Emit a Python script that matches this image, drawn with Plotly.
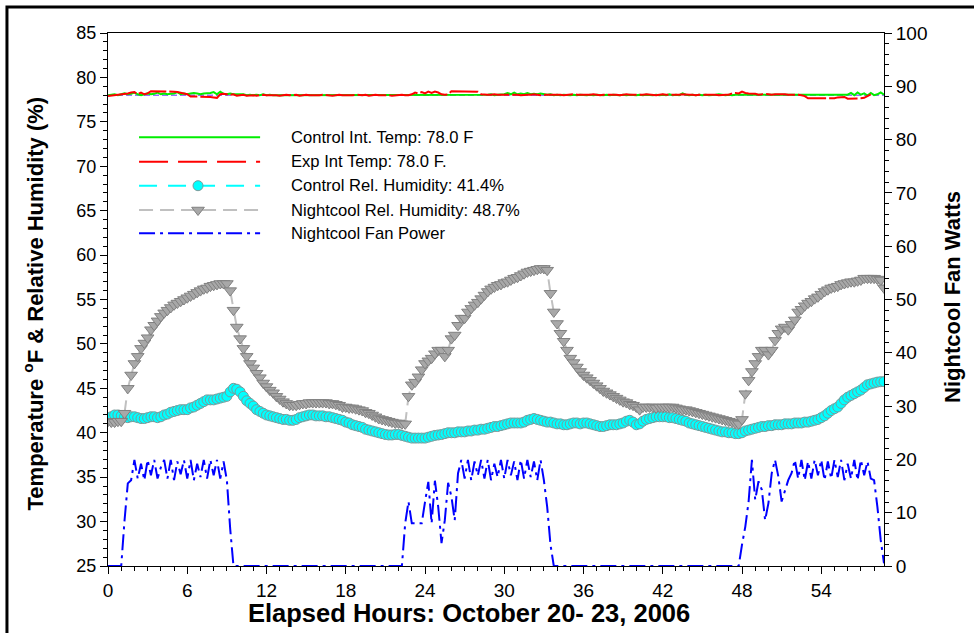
import plotly.graph_objects as go

# Elapsed time base, 15-minute logging interval (hours)
hours = [i * 0.25 for i in range(236)]

# Control house interior temperature (F)
control_temp = [
    78.0, 78.05, 78.1, 78.0,   78.1, 78.2, 78.1, 78.15,   78.3, 78.1, 78.0, 78.1,
    78.2, 78.1, 78.15, 78.3,   78.1, 78.2, 78.1, 78.15,   78.2, 78.35, 78.1, 78.2,
    78.1, 78.2, 78.25, 78.2,   78.1, 78.2, 78.2, 78.25,   78.35, 78.1, 78.4, 78.15,
    78.1, 78.2, 78.1, 78.1,    78.05, 78.1, 78.0, 78.05,  78.0, 78.05, 78.0, 78.1,
    78.0, 78.05, 78.0, 78.0,   78.05, 78.0, 78.0, 78.05,  78.0, 78.0, 78.05, 78.0,
    78.0, 78.05, 78.0, 78.0,   78.05, 78.0, 78.0, 78.05,  78.0, 78.05, 78.0, 78.0,
    78.0, 78.05, 78.0, 78.05,  78.0, 78.0, 78.05, 78.0,   78.05, 78.0, 78.0, 78.05,
    78.0, 78.05, 78.0, 78.0,   78.05, 78.0, 78.05, 78.0,  78.0, 78.05, 78.0, 78.05,
    78.0, 78.0, 78.05, 78.0,   78.05, 78.0, 78.0, 78.05,  78.0, 78.05, 78.0, 78.0,
    78.05, 78.0, 78.05, 78.0,  78.0, 78.05, 78.0, 78.05,  78.1, 78.0, 78.05, 78.1,
    78.1, 78.25, 78.1, 78.3,   78.1, 78.2, 78.1, 78.25,   78.1, 78.15, 78.1, 78.2,
    78.1, 78.05, 78.1, 78.0,   78.05, 78.0, 78.05, 78.0,  78.0, 78.05, 78.0, 78.05,
    78.0, 78.0, 78.05, 78.0,   78.05, 78.0, 78.0, 78.05,  78.0, 78.05, 78.0, 78.0,
    78.05, 78.0, 78.05, 78.0,  78.0, 78.05, 78.0, 78.05,  78.0, 78.0, 78.05, 78.0,
    78.05, 78.0, 78.1, 78.0,   78.05, 78.0, 78.2, 78.05,  78.0, 78.05, 78.0, 78.05,
    78.0, 78.05, 78.0, 78.0,   78.05, 78.1, 78.05, 78.0,  78.05, 78.0, 78.05, 78.05,
    78.0, 78.05, 78.0, 78.05,  78.0, 78.05, 78.0, 78.0,   78.05, 78.0, 78.05, 78.0,
    78.05, 78.0, 78.0, 78.05,  78.05, 78.0, 78.05, 78.0,  78.0, 78.05, 78.0, 78.05,
    78.0, 78.05, 78.0, 78.05,  78.0, 78.0, 78.05, 78.0,   78.05, 78.25, 78.0, 78.3,
    78.05, 78.2, 77.95, 78.25, 78.0, 78.1, 78.3, 78.05,   78.0, 78.25, 78.0, 78.3,
    78.1, 78.0, 78.2, 78.35,   78.0, 78.1, 78.3, 77.95,   78.1, 78.25, 78.0, 78.3,
]

# Experimental (Nightcool) house interior temperature (F)
exp_temp = [
    77.9, 77.95, 78.0, 78.05,  78.1, 78.1, 78.2, 78.3,    78.35, 78.1, 78.3, 78.1,
    78.2, 78.45, 78.45, 78.45, 78.45, 78.45, 78.45, 78.45, 78.4, 78.35, 78.3, 78.2,
    78.1, 77.85, 77.85, 77.85, 77.85, 77.85, 77.8, 77.8,  77.75, 77.7, 78.1, 78.15,
    78.1, 78.05, 78.1, 77.95,  78.0, 78.05, 77.95, 78.0,  78.0, 77.95, 78.0, 78.05,
    78.0, 78.0, 78.05, 78.0,   77.95, 78.0, 78.05, 78.0,  78.0, 78.05, 77.95, 78.0,
    78.05, 78.0, 78.0, 77.95,  78.0, 78.05, 78.0, 78.0,   77.95, 78.0, 78.05, 78.0,
    78.0, 77.95, 78.0, 78.05,  78.0, 78.0, 78.05, 77.95,  78.0, 78.05, 78.0, 78.0,
    78.05, 78.0, 77.95, 78.0,  78.0, 78.05, 78.0, 78.0,   78.1, 78.3, 78.2, 78.35,
    78.2, 78.4, 78.25, 78.4,   78.3, 78.1, 78.05, 78.1,   78.45, 78.45, 78.45, 78.45,
    78.45, 78.45, 78.45, 78.4, 78.4, 78.1, 78.05, 78.05,  78.05, 78.1, 78.05, 78.05,
    78.05, 78.05, 78.1, 78.05, 78.05, 78.0, 78.05, 78.05, 78.05, 78.1, 78.05, 78.0,
    78.05, 78.05, 78.05, 78.1, 78.05, 78.05, 78.0, 78.05, 78.05, 78.1, 78.05, 78.05,
    78.0, 78.05, 78.05, 78.1,  78.05, 78.0, 78.05, 78.05, 78.1, 78.05, 78.05, 78.0,
    78.05, 78.1, 78.05, 78.05, 78.05, 78.0, 78.05, 78.1,  78.05, 78.05, 78.0, 78.05,
    78.1, 78.05, 78.05, 78.05, 78.0, 78.05, 78.1, 78.05,  78.05, 78.05, 78.0, 78.05,
    78.05, 78.1, 78.05, 78.05, 78.05, 78.0, 78.05, 78.05, 78.05, 78.2, 78.25, 78.2,
    78.4, 78.25, 78.2, 78.2,   78.15, 78.05, 78.1, 78.15, 78.1, 78.05, 78.1, 78.1,
    78.15, 78.1, 78.05, 78.05, 78.1, 78.05, 78.0, 77.9,   77.65, 77.65, 77.65, 77.65,
    77.65, 77.6, 77.6, 77.65,  77.65, 77.75, 77.8, 77.8,  77.6, 77.6, 77.6, 77.6,
    77.65, 77.7, 77.9, 78.1,
]

# Thermostat setpoint (F)
setpoint = [78.0] * 236

# Control house relative humidity (%)
control_rh = [
    41.6, 41.8, 42.0, 42.0,  41.9, 41.8, 41.7, 41.8,  41.8, 41.7, 41.6, 41.6,
    41.7, 41.8, 41.8, 41.7,  41.8, 42.0, 42.1, 42.3,  42.4, 42.5, 42.6, 42.6,
    42.6, 42.8, 42.9, 43.1,  43.3, 43.5, 43.7, 43.7,  43.7, 43.8, 43.9, 44.0,
    44.1, 44.6, 45.0, 44.9,  44.6, 44.1, 43.6, 43.3,  43.0, 42.6, 42.4, 42.2,
    42.0, 41.9, 41.8, 41.7,  41.6, 41.5, 41.5, 41.4,  41.4, 41.5, 41.7, 41.8,
    41.9, 42.0, 42.0, 41.9,  41.9, 41.9, 41.8, 41.8,  41.7, 41.6, 41.5, 41.4,
    41.2, 41.1, 40.9, 40.8,  40.7, 40.6, 40.4, 40.3,  40.2, 40.1, 40.0, 39.9,
    39.8, 39.75, 39.75, 39.8, 39.8, 39.7, 39.6, 39.5, 39.4, 39.4, 39.4, 39.4,
    39.4, 39.5, 39.6, 39.7,  39.75, 39.8, 39.9, 40.0, 40.0, 40.0, 40.1, 40.1,
    40.1, 40.2, 40.2, 40.3,  40.3, 40.4, 40.4, 40.5,  40.6, 40.7, 40.7, 40.8,
    40.9, 41.0, 41.1, 41.1,  41.1, 41.1, 41.2, 41.4,  41.5, 41.6, 41.5, 41.4,
    41.3, 41.2, 41.2, 41.1,  41.0, 41.0, 40.9, 40.9,  41.0, 41.1, 41.1, 41.0,
    41.1, 41.1, 41.0, 40.9,  40.8, 40.7, 40.7, 40.8,  40.9, 40.9, 40.9, 41.0,
    41.1, 41.3, 41.4, 41.2,  40.9, 41.0, 41.3, 41.5,  41.6, 41.7, 41.8, 41.8,
    41.8, 41.8, 41.7, 41.7,  41.6, 41.5, 41.4, 41.3,  41.1, 41.0, 40.9, 40.8,
    40.7, 40.6, 40.5, 40.4,  40.3, 40.2, 40.1, 40.1,  40.0, 40.0, 39.9, 39.9,
    40.0, 40.2, 40.3, 40.4,  40.5, 40.6, 40.7, 40.7,  40.8, 40.8, 40.9, 40.9,
    40.9, 41.0, 41.0, 41.0,  41.1, 41.1, 41.1, 41.2,  41.2, 41.3, 41.4, 41.5,
    41.7, 41.9, 42.2, 42.5,  42.7, 42.9, 43.3, 43.7,  44.0, 44.2, 44.4, 44.6,
    44.8, 45.1, 45.4, 45.5,  45.6, 45.7, 45.75, 45.75,
]

# Nightcool house relative humidity (%)
nightcool_rh = [
    41.3, 41.2, 41.2, 41.3,  41.3, 42.2, 45.0, 46.5,  47.8, 48.6, 49.5, 50.1,
    50.7, 51.6, 52.1, 52.6,  53.1, 53.5, 53.8, 54.1,  54.4, 54.6, 54.8, 55.0,
    55.2, 55.4, 55.6, 55.8,  56.0, 56.2, 56.3, 56.5,  56.6, 56.7, 56.8, 56.8,
    56.8, 56.0, 53.8, 51.9,  50.6, 49.5, 48.6, 47.8,  47.3, 46.7, 46.2, 45.6,
    45.2, 44.8, 44.5, 44.1,  43.8, 43.5, 43.3, 43.1,  43.1, 43.1, 43.2, 43.3,
    43.3, 43.4, 43.4, 43.4,  43.4, 43.4, 43.4, 43.3,  43.3, 43.2, 43.1, 42.9,
    42.9, 42.8, 42.8, 42.7,  42.6, 42.5, 42.3, 42.2,  42.0, 41.8, 41.6, 41.5,
    41.4, 41.3, 41.2, 41.1,  41.1, 41.0, 41.0, 44.1,  45.4, 45.7, 46.3, 47.1,
    47.8, 48.1, 48.4, 48.9,  49.3, 49.3, 48.6, 49.3,  50.6, 51.0, 52.1, 52.9,
    52.9, 53.6, 54.0, 54.4,  54.7, 55.1, 55.5, 55.9,  56.2, 56.4, 56.6, 56.7,
    56.9, 57.0, 57.2, 57.4,  57.5, 57.7, 57.9, 58.1,  58.2, 58.3, 58.4, 58.5,
    58.5, 58.3, 55.7, 53.6,  52.3, 51.2, 50.3, 49.3,  48.4, 47.9, 47.4, 46.9,
    46.5, 46.2, 45.9, 45.6,  45.3, 45.0, 44.7, 44.5,  44.3, 44.1, 43.9, 43.7,
    43.5, 43.4, 43.2, 43.1,  42.9, 42.6, 42.9, 42.9,  42.9, 42.9, 42.8, 42.9,
    42.9, 42.9, 42.9, 42.9,  42.8, 42.7, 42.6, 42.6,  42.5, 42.4, 42.3, 42.2,
    42.1, 42.0, 41.9, 41.8,  41.7, 41.6, 41.5, 41.4,  41.3, 41.2, 41.1, 41.0,
    41.5, 44.4, 45.9, 46.9,  47.8, 48.6, 49.3, 49.3,  48.8, 49.3, 50.4, 51.2,
    51.7, 51.9, 51.6, 52.2,  52.7, 53.6, 53.9, 54.3,  54.6, 54.8, 55.1, 55.3,
    55.6, 55.9, 56.1, 56.3,  56.4, 56.5, 56.7, 56.8,  56.9, 57.0, 57.0, 57.1,
    57.2, 57.4, 57.4, 57.4,  57.4, 57.3, 57.2, 56.3,
]

# Nightcool fan power (W)
fan_watts = [
    0, 0, 0, 0,              0, 8.5, 15.5, 16.1,       19.9, 16.4, 19.2, 16.1,
    19.9, 17.0, 19.9, 16.4,  18.5, 19.9, 16.4, 19.9,   16.1, 19.6, 17.2, 19.9,
    16.4, 19.9, 16.1, 19.2,  16.7, 19.9, 16.4, 19.9,   17.0, 19.9, 16.4, 19.6,
    16.1, 7.0, 0, 0,         0, 0, 0, 0,               0, 0, 0, 0,
    0, 0, 0, 0,              0, 0, 0, 0,               0, 0, 0, 0,
    0, 0, 0, 0,              0, 0, 0, 0,               0, 0, 0, 0,
    0, 0, 0, 0,              0, 0, 0, 0,               0, 0, 0, 0,
    0, 0, 0, 0,              0, 0, 8.0, 12.1,          8.0, 8.0, 8.0, 8.0,
    12.0, 15.8, 8.0, 16.0,   11.1, 4.3, 8.6, 15.6,     13.0, 8.6, 17.4, 19.9,
    16.4, 19.9, 16.1, 19.6,  17.0, 19.9, 16.4, 19.9,   16.1, 19.2, 16.7, 19.9,
    16.4, 19.9, 17.0, 19.6,  16.1, 19.9, 16.4, 19.9,   16.7, 19.6, 16.1, 19.9,
    16.1, 11.1, 4.0, 0,      0, 0, 0, 0,               0, 0, 0, 0,
    0, 0, 0, 0,              0, 0, 0, 0,               0, 0, 0, 0,
    0, 0, 0, 0,              0, 0, 0, 0,               0, 0, 0, 0,
    0, 0, 0, 0,              0, 0, 0, 0,               0, 0, 0, 0,
    0, 0, 0, 0,              0, 0, 0, 0,               0, 0, 0, 0,
    4.0, 7.4, 12.1, 19.9,    12.4, 15.9, 14.3, 8.6,    11.8, 17.4, 19.9, 16.8,
    12.1, 14.0, 16.1, 17.4,  19.9, 16.4, 19.9, 16.1,   19.6, 16.4, 19.9, 17.0,
    19.9, 16.1, 19.6, 16.4,  19.9, 16.7, 19.9, 16.1,   19.2, 16.4, 19.9, 16.1,
    19.9, 17.0, 19.6, 16.4,  16.1, 11.1, 4.9, 0.5,
]

legend_labels = [
    "Control Int. Temp: 78.0 F",
    "Exp Int Temp: 78.0 F.",
    "Control Rel. Humidity: 41.4%",
    "Nightcool Rel. Humidity: 48.7%",
    "Nightcool Fan Power",
]

FONT = "Liberation Sans, Arial, sans-serif"
GREEN = "#00ee00"
RED = "#ff0000"
CYAN = "#00ffff"
GRAY_LINE = "#c0c0c0"
GRAY_MARK = "#a8a8a8"
BLUE = "#0000ff"
FAN_DASH = "16px,5px,3px,5px"

fig = go.Figure()

fig.add_trace(go.Scatter(x=hours, y=setpoint, mode="lines",
                         line=dict(color="#9a6cff", width=1.5, dash="6px,3px")))
fig.add_trace(go.Scatter(x=hours, y=control_temp, mode="lines",
                         line=dict(color=GREEN, width=2)))
fig.add_trace(go.Scatter(x=hours, y=exp_temp, mode="lines",
                         line=dict(color=RED, width=2, dash="29px,3px")))
fig.add_trace(go.Scatter(x=hours, y=control_rh, mode="lines+markers",
                         line=dict(color=CYAN, width=1.5, dash="18px,10px"),
                         marker=dict(symbol="circle", size=10, color=CYAN,
                                     line=dict(color="#7a9a9a", width=1))))
fig.add_trace(go.Scatter(x=hours, y=nightcool_rh, mode="lines+markers",
                         line=dict(color=GRAY_LINE, width=2, dash="14px,7px"),
                         marker=dict(symbol="triangle-down", size=11, color=GRAY_MARK,
                                     line=dict(color="#808080", width=1))))
fig.add_trace(go.Scatter(x=hours, y=fan_watts, mode="lines", yaxis="y2",
                         line=dict(color=BLUE, width=2, dash=FAN_DASH)))

# Legend key drawn on a hidden overlay axis (unit square over the plot area)
key_x0, key_x1, key_mid = 0.040, 0.196, 0.116
key_rows = [0.8043, 0.7585, 0.7135, 0.6679, 0.6242]
key_styles = [
    dict(line=dict(color=GREEN, width=2), marker=None),
    dict(line=dict(color=RED, width=2, dash="29px,10px"), marker=None),
    dict(line=dict(color=CYAN, width=2, dash="18px,11px"),
         marker=dict(symbol="circle", size=10, color=CYAN, line=dict(color="#7a9a9a", width=1))),
    dict(line=dict(color=GRAY_LINE, width=2, dash="14px,7px"),
         marker=dict(symbol="triangle-down", size=11, color=GRAY_MARK, line=dict(color="#808080", width=1))),
    dict(line=dict(color=BLUE, width=2, dash=FAN_DASH), marker=None),
]
for yk, st in zip(key_rows, key_styles):
    fig.add_trace(go.Scatter(x=[key_x0, key_x1], y=[yk, yk], mode="lines",
                             line=st["line"], xaxis="x3", yaxis="y3"))
    if st["marker"] is not None:
        fig.add_trace(go.Scatter(x=[key_mid], y=[yk], mode="markers",
                                 marker=st["marker"], xaxis="x3", yaxis="y3"))

annotations = []
for yk, label in zip(key_rows, legend_labels):
    annotations.append(dict(x=0.2333, y=yk, xref="paper", yref="paper", text=label,
                            showarrow=False, xanchor="left", yanchor="middle",
                            font=dict(family=FONT, size=16.6, color="black")))

# Axis titles
annotations.append(dict(x=-0.0954, y=0.4925, xref="paper", yref="paper",
                        text="<b>Temperature <sup>o</sup>F & Relative Humidity (%)</b>",
                        textangle=-90, showarrow=False, xanchor="center", yanchor="middle",
                        font=dict(family=FONT, size=22, color="black")))
annotations.append(dict(x=1.089, y=0.505, xref="paper", yref="paper",
                        text="<b>Nightcool Fan Watts</b>",
                        textangle=-90, showarrow=False, xanchor="center", yanchor="middle",
                        font=dict(family=FONT, size=22, color="black")))
annotations.append(dict(x=0.465, y=-0.0885, xref="paper", yref="paper",
                        text="<b>Elapsed Hours: October 20- 23, 2006</b>",
                        showarrow=False, xanchor="center", yanchor="middle",
                        font=dict(family=FONT, size=25.5, color="black")))

tick_minor = dict(ticks="outside", ticklen=4, tickcolor="black", tickwidth=1)

fig.update_layout(
    width=974, height=633,
    margin=dict(l=108, r=90, t=33, b=67),
    paper_bgcolor="white", plot_bgcolor="white",
    showlegend=False,
    annotations=annotations,
    xaxis=dict(range=[0, 58.75], tick0=0, dtick=6, ticks="outside", ticklen=7,
               tickcolor="black", showline=True, linecolor="black", linewidth=1,
               mirror=True, showgrid=False, zeroline=False,
               minor=dict(dtick=1, **tick_minor),
               tickfont=dict(family=FONT, size=19, color="black")),
    yaxis=dict(range=[25, 85], tick0=25, dtick=5, ticks="outside", ticklen=7,
               tickcolor="black", showline=True, linecolor="black", linewidth=1,
               showgrid=False, zeroline=False,
               minor=dict(dtick=1, **tick_minor),
               tickfont=dict(family=FONT, size=18, color="black")),
    yaxis2=dict(range=[0, 100], dtick=10, overlaying="y", side="right",
                ticks="outside", ticklen=7, tickcolor="black", showline=True,
                linecolor="black", linewidth=1, showgrid=False, zeroline=False,
                minor=dict(dtick=2, **tick_minor),
                tickfont=dict(family=FONT, size=19, color="black")),
    xaxis3=dict(range=[0, 1], overlaying="x", visible=False, anchor="y3"),
    yaxis3=dict(range=[0, 1], overlaying="y", visible=False, anchor="x3"),
    shapes=[dict(type="rect", xref="paper", yref="paper",
                 x0=-0.1302, x1=1.3, y0=-0.3, y1=1.0488,
                 line=dict(color="black", width=3), fillcolor="rgba(0,0,0,0)",
                 layer="above")],
)

fig.write_html("out.html")
